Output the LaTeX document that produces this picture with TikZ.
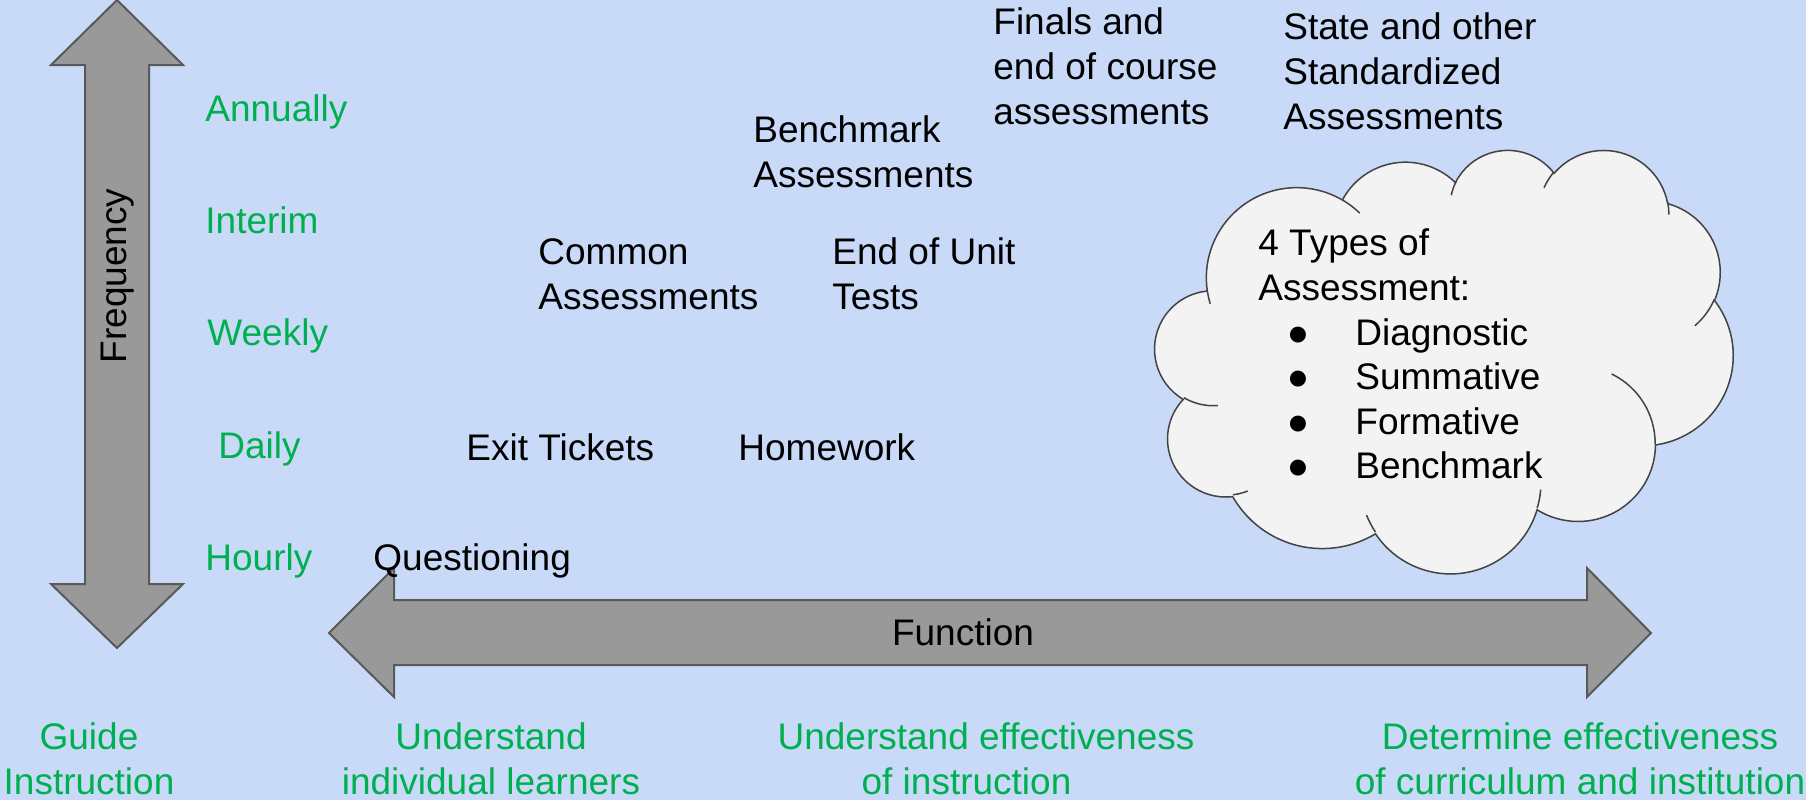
\documentclass[tikz,border=0pt]{standalone}
\usepackage{fontspec}
\setmainfont{Liberation Sans}
\definecolor{bg}{HTML}{C9DAF8}
\definecolor{grn}{HTML}{00B050}
\definecolor{arrowfill}{HTML}{999999}
\definecolor{arrowline}{HTML}{595959}
\definecolor{cloudfill}{HTML}{F3F3F3}
\definecolor{cloudline}{HTML}{434343}
\begin{document}
\begin{tikzpicture}[x=0.5pt, y=-0.5pt,
  lbl/.style={font=\fontsize{18.5}{22.4}\selectfont, inner sep=0pt},
  freq/.style={lbl, text=grn, anchor=base west},
  item/.style={lbl, anchor=base west, align=left},
  func/.style={lbl, text=grn, anchor=base, align=center},
  bigarrow/.style={fill=arrowfill, draw=arrowline, line width=1pt, line join=miter},
  cloudshape/.style={fill=cloudfill, draw=cloudline, line width=0.75pt},
  cloudarc/.style={draw=cloudline, line width=0.75pt},
  varc/.style n args={4}{x radius=#1, y radius=#2,
    start angle={atan2(#1*sin(#3),#2*cos(#3))},
    delta angle={atan2(#1*sin(#3+#4),#2*cos(#3+#4))-atan2(#1*sin(#3),#2*cos(#3))
      -360*round((atan2(#1*sin(#3+#4),#2*cos(#3+#4))-atan2(#1*sin(#3),#2*cos(#3))-#4)/360)}}]
\useasboundingbox (0,0) rectangle (1806,800);
\fill[bg] (0,0) rectangle (1806,800);

% vertical double arrow
\filldraw[bigarrow] (117,0) -- (183,65) -- (149,65) -- (149,584) -- (183,584) -- (117,648)
  -- (51,584) -- (85,584) -- (85,65) -- (51,65) -- cycle;
\node[lbl, rotate=90] (frequency) at (118,276) {Frequency};

% horizontal double arrow
\filldraw[bigarrow] (329,633) -- (394,568) -- (394,600) -- (1587,600) -- (1587,568) -- (1651,633)
  -- (1587,697) -- (1587,665) -- (394,665) -- (394,697) -- cycle;
\node[lbl, anchor=base] (function) at (963,645) {Function};

% frequency labels
\node[freq] (annually) at (205,121) {Annually};
\node[freq] (interim) at (205,233) {Interim};
\node[freq] (weekly) at (207,345) {Weekly};
\node[freq] (daily) at (218,458) {Daily};
\node[freq] (hourly) at (205,570) {Hourly};

% assessments (base anchor = baseline of last line)
\node[item] (questioning) at (373,570) {Questioning};
\node[item] (exit) at (466,460) {Exit Tickets};
\node[item] (homework) at (738,460) {Homework};
\node[item] (common) at (538,309) {Common\\Assessments};
\node[item] (endunit) at (832,309) {End of Unit\\Tests};
\node[item] (benchmark) at (753,187) {Benchmark\\Assessments};
\node[item] (finals) at (993,124) {Finals and\\end of course\\assessments};
\node[item] (state) at (1283,129) {State and other\\Standardized\\Assessments};

% function labels
\node[func] (guide) at (89,794) {Guide\\Instruction};
\node[func] (understand) at (491,794) {Understand\\individual learners};
\node[func] (undeff) at (986,794) {Understand effectiveness\\of instruction\hspace*{19.5pt}};
\node[func] (determine) at (1580,794) {Determine effectiveness\\of curriculum and institution};

% cloud
\begin{scope}[shift={(1155,149)}, x=0.66898pt, y=-0.49pt]
\filldraw[cloudshape] (39.00,143.70)
 arc[varc={67.53}{91.90}{-190.487}{123.781}]
 arc[varc={53.33}{72.67}{-144.102}{89.945}]
 arc[varc={43.65}{59.45}{-145.808}{99.723}]
 arc[varc={48.57}{65.95}{-130.986}{117.242}]
 arc[varc={53.33}{72.73}{-78.709}{109.027}]
 arc[varc={67.75}{92.20}{-46.267}{130.269}]
 arc[varc={57.85}{78.67}{0.625}{114.033}]
 arc[varc={67.52}{92.15}{22.452}{115.173}]
 arc[varc={77.20}{105.43}{66.243}{75.711}]
 arc[varc={43.60}{59.18}{-274.942}{146.736}]
 arc[varc={43.45}{59.45}{-246.829}{152.519}]
 -- cycle;
\draw[cloudarc]
 (46.93,261.77) arc[varc={43.45}{59.45}{86.742}{26.430}]
 (69.28,348.99) arc[varc={43.60}{59.18}{73.610}{11.447}]
 (164.78,390.90) arc[varc={67.52}{92.15}{137.624}{14.081}]
 (288.27,347.51) arc[varc={67.52}{92.15}{6.453}{15.998}]
 (341.29,229.54) arc[varc={57.85}{78.67}{-70.294}{70.917}]
 (417.98,153.54) arc[varc={53.33}{72.73}{30.318}{27.752}]
 (383.24,54.26) arc[varc={48.57}{65.95}{-13.744}{14.859}]
 (290.78,39.52) arc[varc={48.57}{65.95}{-149.181}{18.195}]
 (221.41,47.20) arc[varc={43.65}{59.45}{-163.494}{17.686}]
 (140.00,51.92) arc[varc={67.53}{91.90}{-66.707}{12.319}]
 (41.27,157.89) arc[varc={67.53}{91.90}{157.654}{11.858}];
\end{scope}

% cloud text
\node[item] (types) at (1258,300.5) {4 Types of\\Assessment:};
\node[lbl, anchor=base] (b1) at (1298,345) {●};
\node[lbl, anchor=base] (b2) at (1298,389.5) {●};
\node[lbl, anchor=base] (b3) at (1298,434) {●};
\node[lbl, anchor=base] (b4) at (1298,478.5) {●};
\node[item] (diag) at (1355,345) {Diagnostic};
\node[item] (summ) at (1355,389.5) {Summative};
\node[item] (form) at (1355,434) {Formative};
\node[item] (bench) at (1355,478.5) {Benchmark};
\end{tikzpicture}
\end{document}
